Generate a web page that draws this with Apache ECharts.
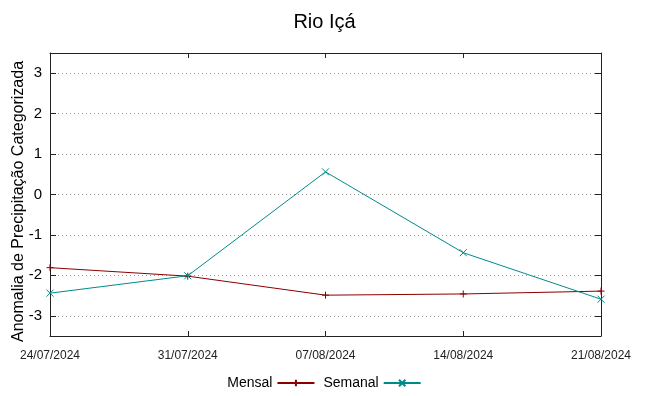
<!DOCTYPE html>
<html>
<head>
<meta charset="utf-8">
<script src="https://cdn.jsdelivr.net/npm/echarts@6/dist/echarts.min.js"></script>
<style>html,body{margin:0;padding:0;background:#fff}#c{width:649px;height:396px}</style>
</head>
<body>
<div id="c"></div>
<script>
const categories = ['24/07/2024','31/07/2024','07/08/2024','14/08/2024','21/08/2024'];
const mensal = [-1.81, -2.02, -2.49, -2.46, -2.39];
const semanal = [-2.44, -2.01, 0.56, -1.44, -2.59];
const yTicks = [-3, -2, -1, 0, 1, 2, 3];
const titleText = 'Rio Içá';
const yName = 'Anomalia de Precipitação Categorizada';

const FONT = 'Liberation Sans, Arial, sans-serif';
const RED = '#8b0000', TEAL = '#008b8b';
const plus = 'path://M0,5L10,5M5,0L5,10';
const cross = 'path://M0,0L10,10M10,0L0,10';

const chart = echarts.init(document.getElementById('c'), null, {renderer: 'canvas'});
chart.setOption({
  animation: false,
  backgroundColor: '#fff',
  title: {text: titleText, left: 'center', top: 7,
    textStyle: {fontFamily: FONT, fontSize: 20, fontWeight: 'normal', color: '#000'}},
  legend: {
    bottom: 1, left: 'center', align: 'right', itemWidth: 37, itemHeight: 8, itemGap: 8,
    textStyle: {fontFamily: FONT, fontSize: 14, color: '#000'},
    data: ['Mensal', 'Semanal']
  },
  grid: {left: 50, right: 48, top: 53, bottom: 60, containLabel: false, outerBoundsMode: 'none'},
  xAxis: [{
    type: 'category', data: categories, boundaryGap: false, position: 'bottom',
    axisLine: {show: true, onZero: false, lineStyle: {color: '#222', width: 1}},
    axisTick: {show: true, inside: true, length: 5, lineStyle: {color: '#222'}},
    axisLabel: {fontFamily: FONT, fontSize: 12, color: '#222', margin: 14},
    splitLine: {show: false}
  }, {
    type: 'category', data: categories, boundaryGap: false, position: 'top',
    axisLine: {show: true, onZero: false, lineStyle: {color: '#222', width: 1}},
    axisTick: {show: true, inside: true, length: 5, lineStyle: {color: '#222'}},
    axisLabel: {show: false}, splitLine: {show: false}
  }],
  yAxis: [{
    type: 'value', min: -3.5, max: 3.5, position: 'left',
    name: yName, nameLocation: 'middle', nameGap: 23, nameRotate: 90, nameMoveOverlap: false,
    nameTextStyle: {fontFamily: FONT, fontSize: 16, color: '#000', padding: [0, 14, 0, 0]},
    axisLine: {show: true, onZero: false, lineStyle: {color: '#222', width: 1}},
    axisTick: {show: true, inside: true, length: 6, customValues: yTicks, lineStyle: {color: '#222'}},
    axisLabel: {fontFamily: FONT, fontSize: 15, color: '#000', margin: 8, customValues: yTicks},
    splitLine: {show: true, lineStyle: {color: '#999', type: [1, 3], width: 1}}
  }, {
    type: 'value', min: -3.5, max: 3.5, position: 'right',
    axisLine: {show: true, onZero: false, lineStyle: {color: '#222', width: 1}},
    axisTick: {show: true, inside: true, length: 6, customValues: yTicks, lineStyle: {color: '#222'}},
    axisLabel: {show: false, customValues: yTicks},
    splitLine: {show: false}
  }],
  series: [{
    name: 'Mensal', type: 'line', data: mensal, xAxisIndex: 0, yAxisIndex: 0,
    symbol: plus, symbolSize: 7, showAllSymbol: true,
    lineStyle: {color: RED, width: 1},
    itemStyle: {color: RED, borderColor: RED, borderWidth: 1},
    emphasis: {disabled: true}
  }, {
    name: 'Semanal', type: 'line', data: semanal, xAxisIndex: 0, yAxisIndex: 0,
    symbol: cross, symbolSize: 7, showAllSymbol: true,
    lineStyle: {color: TEAL, width: 1},
    itemStyle: {color: TEAL, borderColor: TEAL, borderWidth: 1},
    emphasis: {disabled: true}
  }]
});
</script>
</body>
</html>
